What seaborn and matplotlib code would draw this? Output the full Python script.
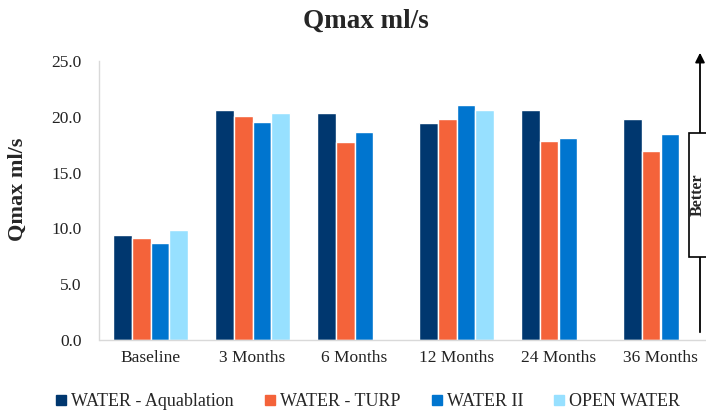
import matplotlib
matplotlib.use("Agg")
import matplotlib.pyplot as plt
import seaborn as sns
import pandas as pd
from matplotlib.patches import Rectangle, FancyArrowPatch
from matplotlib.lines import Line2D

categories = ["Baseline", "3 Months", "6 Months", "12 Months", "24 Months", "36 Months"]
series = ["WATER - Aquablation", "WATER - TURP", "WATER II", "OPEN WATER"]
aquablation = [9.4, 20.65, 20.3, 19.4, 20.6, 19.8]
turp = [9.1, 20.05, 17.7, 19.8, 17.8, 16.9]
water2 = [8.7, 19.5, 18.6, 21.1, 18.1, 18.5]
open_water = [9.9, 20.3, None, 20.6, None, None]
colors = ["#00376F", "#F4633A", "#0075CF", "#97E0FF"]

rows = []
for name, vals in zip(series, [aquablation, turp, water2, open_water]):
    for c, v in zip(categories, vals):
        if v is not None:
            rows.append({"Time": c, "Group": name, "Qmax": v})
df = pd.DataFrame(rows)

sns.set_style("white")
plt.rcParams["font.family"] = ["Liberation Serif", "DejaVu Serif"]

fig = plt.figure(figsize=(7.06, 4.17), dpi=100)
ax = fig.add_axes([99.5 / 706, 1 - 340 / 417, 612 / 706, 279 / 417])

sns.barplot(data=df, x="Time", y="Qmax", hue="Group", order=categories,
            hue_order=series, palette=colors, width=0.735, saturation=1,
            errorbar=None, ax=ax, legend=False)

ax.set_ylim(0, 25)
ax.set_yticks([0, 5, 10, 15, 20, 25])
ax.set_yticklabels([f"{v:.1f}" for v in [0, 5, 10, 15, 20, 25]])
ax.set_xlim(-0.5, 5.5)
ax.set_xlabel("")
ax.set_ylabel("Qmax ml/s", fontsize=16, fontweight="bold")
ax.yaxis.set_label_coords(-0.117, 0.54)
ax.tick_params(axis="both", length=0, labelsize=12.5, colors="#222222")
ax.tick_params(axis="y", pad=13)
ax.tick_params(axis="x", pad=7)
for s in ["top", "right"]:
    ax.spines[s].set_visible(False)
for s in ["left", "bottom"]:
    ax.spines[s].set_color("#D9D9D9")
    ax.spines[s].set_linewidth(1)

fig.text(0.518, 0.95, "Qmax ml/s", ha="center", va="center",
         fontsize=19.5, fontweight="bold")

# Legend
handles = [Line2D([], [], marker="s", linestyle="none", markersize=7,
                  markerfacecolor=c, markeredgecolor=c) for c in colors]
fig.legend(handles, series, loc="center", bbox_to_anchor=(0.52, 0.036),
           ncol=4, frameon=False, fontsize=13, handletextpad=0.15,
           columnspacing=1.6, handlelength=0.8)

# "Better" arrow and box
arrow = FancyArrowPatch((700 / 706, 1 - 335 / 417), (700 / 706, 1 - 50 / 417),
                        transform=fig.transFigure, arrowstyle="-|>",
                        mutation_scale=14, color="black", lw=1.3)
fig.patches.append(arrow)
box = Rectangle((689 / 706, 1 - 257 / 417), 30 / 706, 124 / 417,
                transform=fig.transFigure, facecolor="white",
                edgecolor="black", lw=1.2, zorder=3)
fig.patches.append(box)
fig.text(698 / 706, 1 - 195 / 417, "Better", rotation=90, ha="center",
         va="center", fontsize=11.5, fontweight="bold", zorder=4)

fig.savefig("out.png", dpi=100)
